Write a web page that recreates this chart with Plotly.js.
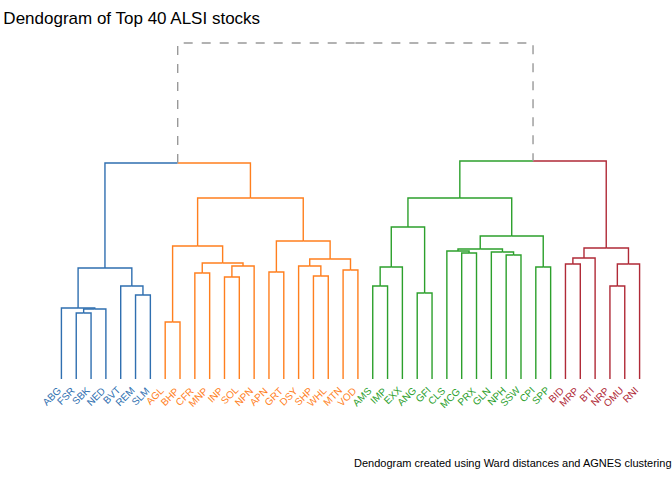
<!DOCTYPE html>
<html>
<head>
<meta charset="utf-8">
<script src="https://cdn.plot.ly/plotly-3.0.1.min.js"></script>
<style>body{margin:0}#myDiv{width:672px;height:480px}</style>
</head>
<body>
<div id="myDiv"></div>
<script>
// Leaf order, left to right
var leafLabels = ['ABG','FSR','SBK','NED','BVT','REM','SLM','AGL','BHP','CFR','MNP','INP','SOL','NPN',
  'APN','GRT','DSY','SHP','WHL','MTN','VOD','AMS','IMP','EXX','ANG','GFI','CLS','MCG','PRX','GLN',
  'NPH','SSW','CPI','SPP','BID','MRP','BTI','NRP','OMU','RNI'];
// Cluster of each leaf (0 blue, 1 orange, 2 green, 3 red)
var leafCluster = [0,0,0,0,0,0,0, 1,1,1,1,1,1,1,1,1,1,1,1,1,1, 2,2,2,2,2,2,2,2,2,2,2,2,2, 3,3,3,3,3,3];
// hclust-style merges: negative = leaf (1-based), positive = earlier merge
var mergeLeft  = [-2, 1,-1,-6,-5, 3,-8,-10,-12, 9, 8, 7,-15,-18,-17,-20,15,13,12, 6,-22,21,-25,22,-28,-27,-31,-30,26,-33,29,24,-35,33,-38,35,34,32,20];
var mergeRight = [-3,-4, 2,-7, 4, 5,-9,-11,-13,-14,10,11,-16,-19, 14,-21,16,17,18,19,-23,-24,-26,23,-29, 25,-32, 27,28,-34,30,31,-36,-37,-39,-40,36,37,38];
var mergeHeight = [66,70,71,84,93,111,57,106,102,113,116,133,107,103,113,109,120,138,181,216,
  93,112,86,152,126,128,124,127,130,112,143,181,115,121,93,115,131,218,336];

var clusterColors = ['#2f6fb0','#ff7f1e','#2ca02c','#b02a37'];

var nodeX = [], nodeH = [], nodeC = [];
function info(id) {
  if (id < 0) return {x: -id, h: 0, c: leafCluster[-id - 1]};
  return {x: nodeX[id - 1], h: nodeH[id - 1], c: nodeC[id - 1]};
}

var traces = [];
function seg(xs, ys, color, dash) {
  traces.push({x: xs, y: ys, mode: 'lines', type: 'scatter', hoverinfo: 'skip',
    line: {color: color, width: 1.4, dash: dash || 'solid'}});
}

for (var i = 0; i < mergeHeight.length; i++) {
  var a = info(mergeLeft[i]), b = info(mergeRight[i]), h = mergeHeight[i];
  var mid = (a.x + b.x) / 2;
  var c = (a.c === b.c) ? a.c : -1;
  var isRoot = (i === mergeHeight.length - 1);
  var ca = isRoot ? '#999999' : clusterColors[a.c];
  var cb = isRoot ? '#999999' : clusterColors[b.c];
  var dash = isRoot ? 'dash' : 'solid';
  seg([a.x, a.x, mid], [a.h, h, h], ca, dash);
  seg([mid, b.x, b.x], [h, h, b.h], cb, dash);
  nodeX.push(mid); nodeH.push(h); nodeC.push(c);
}

var annotations = leafLabels.map(function(lab, k) {
  return {x: k + 1, y: 0, xref: 'x', yref: 'y', text: lab, showarrow: false,
    textangle: -45, xanchor: 'right', yanchor: 'top', yshift: -3, xshift: 4,
    font: {size: 10, color: clusterColors[leafCluster[k]]}};
});
annotations.push({xref: 'paper', yref: 'paper', x: 1.045, y: -0.27, xanchor: 'right', yanchor: 'bottom',
  text: 'Dendogram created using Ward distances and AGNES clustering', showarrow: false,
  font: {size: 11, color: '#000'}});

var layout = {
  width: 672, height: 480,
  title: {text: 'Dendogram of Top 40 ALSI stocks', x: 0.005, xanchor: 'left', y: 0.975,
    font: {size: 17, color: '#000'}},
  font: {family: 'Liberation Sans, Arial, sans-serif'},
  showlegend: false,
  margin: {l: 54, r: 25, t: 39, b: 101},
  xaxis: {range: [0.5, 40.5], visible: false, fixedrange: true},
  yaxis: {range: [0, 340], visible: false, fixedrange: true},
  plot_bgcolor: '#fff', paper_bgcolor: '#fff',
  annotations: annotations
};

Plotly.newPlot('myDiv', traces, layout, {displayModeBar: false, staticPlot: true});
</script>
</body>
</html>
